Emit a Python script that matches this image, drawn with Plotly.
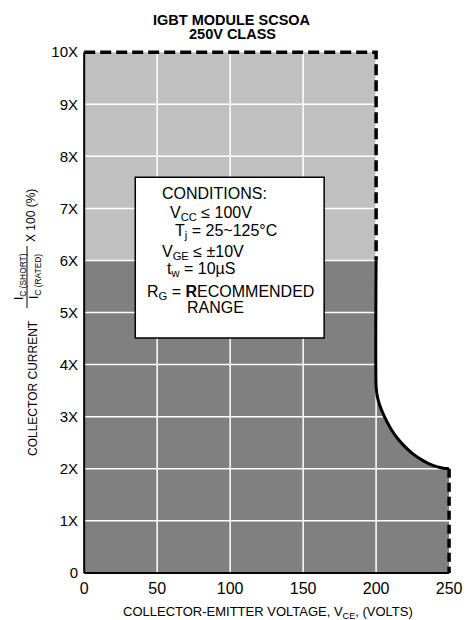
import plotly.graph_objects as go

# ---------------- data ----------------
x_ticks = [0, 50, 100, 150, 200, 250]
x_tick_labels = ["0", "50", "100", "150", "200", "250"]
y_ticks = [0, 1, 2, 3, 4, 5, 6, 7, 8, 9, 10]
y_tick_labels = ["0", "1X", "2X", "3X", "4X", "5X", "6X", "7X", "8X", "9X", "10X"]

# upper (light) zone: 200 V max, 6X..10X
light_v = [0, 0, 200, 200]
light_i = [6, 10, 10, 6]

# dashed 10X limit up to 200 V, then down to 6X
top_limit_v = [0, 200, 200]
top_limit_i = [10, 10, 6]

# solid SCSOA boundary: vertical at 200 V then curve to (250 V, 2X)
curve_v = [200, 200, 200.9, 202.5, 204.6, 207.5, 210.7, 215, 219.9, 225, 231.3, 236, 241.5, 246, 250]
curve_i = [6, 3.58, 3.38, 3.22, 3.07, 2.9, 2.74, 2.57, 2.42, 2.29, 2.17, 2.1, 2.04, 2.01, 2.0]

# dashed tail at 250 V
tail_v = [250, 250]
tail_i = [2, 0]

# lower (dark) zone outline
dark_v = [0, 0] + curve_v + [250]
dark_i = [0, 6] + curve_i + [0]

conditions = [
    "CONDITIONS:",
    "V<sub>CC</sub> ≤ 100V",
    "T<sub>j</sub> = 25~125°C",
    "V<sub>GE</sub> ≤ ±10V",
    "t<sub>w</sub> = 10µS",
    "R<sub>G</sub> = <b>R</b>ECOMMENDED",
    "RANGE",
]
cond_x = [52, 57.5, 61, 52, 55.5, 41.8, 69.2]
cond_y = [7.29, 6.91, 6.55, 6.16, 5.82, 5.39, 5.09]

FONT = "Liberation Sans, Arial, Helvetica, sans-serif"
DARK = "#808080"
LIGHT = "#c0c0c0"

# figure geometry (page has an 8px body margin)
OFF = 8
W, H = 465, 612
ML, MR, MT, MB = 74, 21, 39, 44
PW, PH = W - ML - MR, H - MT - MB


def px(xpage):
    return (xpage - OFF - ML) / PW


def py(ypage):
    return (H - MB - (ypage - OFF)) / PH


fig = go.Figure()

fig.add_trace(go.Scatter(x=dark_v, y=dark_i, fill="toself", fillcolor=DARK,
                         mode="lines", line=dict(width=0), hoverinfo="skip"))
fig.add_trace(go.Scatter(x=light_v, y=light_i, fill="toself", fillcolor=LIGHT,
                         mode="lines", line=dict(width=0), hoverinfo="skip"))

# white grid drawn over the fills
for v in x_ticks[1:-1]:
    fig.add_trace(go.Scatter(x=[v, v], y=[y_ticks[0], y_ticks[-1]], mode="lines",
                             line=dict(color="white", width=1.5), hoverinfo="skip"))
for i in y_ticks[1:-1]:
    fig.add_trace(go.Scatter(x=[x_ticks[0], x_ticks[-1]], y=[i, i], mode="lines",
                             line=dict(color="white", width=1.5), hoverinfo="skip"))

# axes lines
fig.add_trace(go.Scatter(x=[0, 0], y=[0, 10], mode="lines",
                         line=dict(color="black", width=2), hoverinfo="skip"))
fig.add_trace(go.Scatter(x=[0, 250], y=[0, 0], mode="lines",
                         line=dict(color="black", width=2), hoverinfo="skip"))

# boundaries
fig.add_trace(go.Scatter(x=top_limit_v, y=top_limit_i, mode="lines",
                         line=dict(color="black", width=3.5, dash="11px,5px"), hoverinfo="skip"))
fig.add_trace(go.Scatter(x=curve_v, y=curve_i, mode="lines",
                         line=dict(color="black", width=3, shape="spline", smoothing=0.6),
                         hoverinfo="skip"))
fig.add_trace(go.Scatter(x=tail_v, y=tail_i, mode="lines",
                         line=dict(color="black", width=3.5, dash="9px,5px"), hoverinfo="skip"))

# conditions box
fig.add_shape(type="rect", xref="x", yref="y", x0=35, x1=164.4, y0=4.51, y1=7.6,
              fillcolor="white", line=dict(color="black", width=1.5), layer="above")
for t, xx, yy in zip(conditions, cond_x, cond_y):
    fig.add_annotation(x=xx, y=yy, xref="x", yref="y", text=t, showarrow=False,
                       xanchor="left", yanchor="middle",
                       font=dict(family=FONT, size=16, color="black"))


def note(xpage, ypage, text, size, angle=0):
    fig.add_annotation(x=px(xpage), y=py(ypage), xref="paper", yref="paper",
                       text=text, textangle=angle, showarrow=False,
                       xanchor="center", yanchor="middle",
                       font=dict(family=FONT, size=size, color="black"))


# titles
note(232, 20, "<b>IGBT MODULE SCSOA</b>", 14.5)
note(232, 34, "<b>250V CLASS</b>", 14.5)
note(268, 612, "COLLECTOR-EMITTER VOLTAGE, V<sub>CE</sub>, (VOLTS)", 13)

# y-axis title pieces
note(33, 388, "COLLECTOR CURRENT", 12, -90)
note(20, 277, "I<sub>C (SHORT)</sub>", 12, -90)
note(35, 277, "I<sub>C (RATED)</sub>", 12, -90)
note(31, 216, "X 100 (%)", 12, -90)
fig.add_shape(type="line", xref="paper", yref="paper", x0=px(27), x1=px(27),
              y0=py(246), y1=py(308), line=dict(color="black", width=1))

fig.update_layout(
    width=W, height=H,
    margin=dict(l=ML, r=MR, t=MT, b=MB),
    paper_bgcolor="white", plot_bgcolor="white",
    showlegend=False,
    xaxis=dict(range=[-1.5, 252], tickvals=x_ticks, ticktext=x_tick_labels,
               showgrid=False, zeroline=False, showline=False, ticks="",
               ticklabelstandoff=1, automargin=False,
               tickfont=dict(family=FONT, size=16, color="black"), fixedrange=True),
    yaxis=dict(range=[-0.06, 10.1], tickvals=y_ticks, ticktext=y_tick_labels,
               showgrid=False, zeroline=False, showline=False, ticks="",
               ticklabelstandoff=3, automargin=False,
               tickfont=dict(family=FONT, size=15, color="black"), fixedrange=True),
)

fig.write_html("out.html")
